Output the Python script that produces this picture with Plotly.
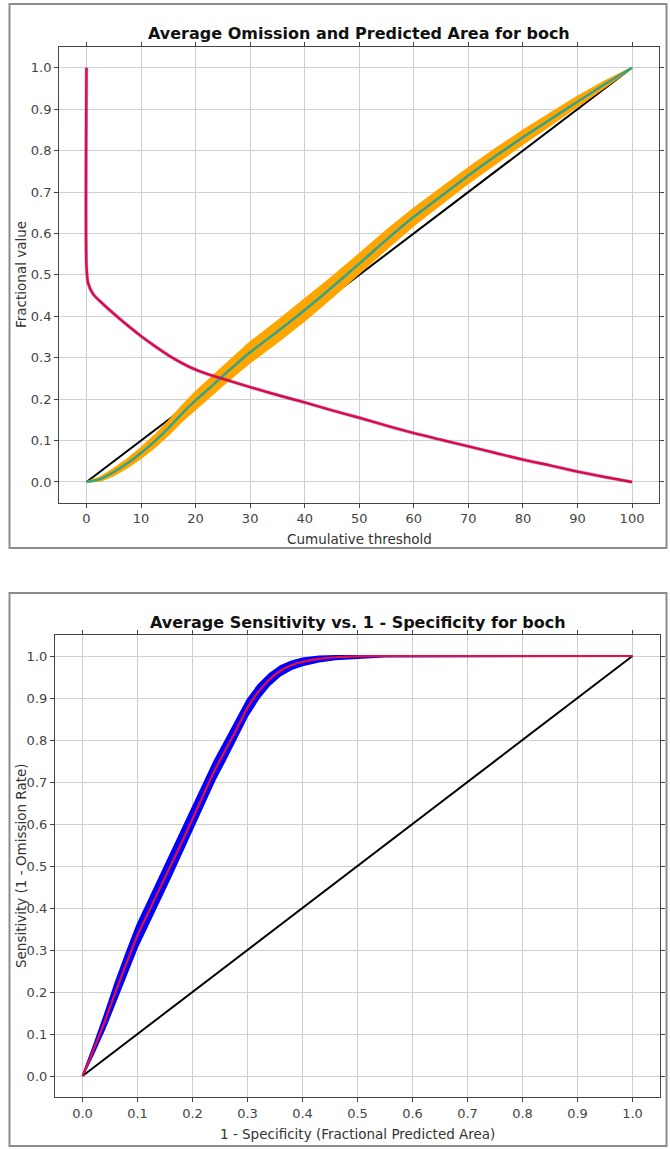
import plotly.graph_objects as go

W, H = 670, 1149

# ---------------- Top chart data: Average Omission and Predicted Area ----------------
thr = [0, 2.5, 5, 7.5, 10, 12.5, 15, 17.5, 20, 22.5, 25, 27.5, 30, 35, 40, 45, 50,
       55, 60, 65, 70, 75, 80, 85, 90, 95, 100]
omission_mean = [0, 0.007, 0.024, 0.045, 0.07, 0.098, 0.13, 0.165, 0.197, 0.226, 0.256,
                 0.285, 0.313, 0.363, 0.415, 0.47, 0.527, 0.585, 0.64, 0.69, 0.74, 0.787,
                 0.832, 0.875, 0.918, 0.96, 1.0]
omission_sd = [0, 0.004, 0.008, 0.01, 0.012, 0.014, 0.016, 0.018, 0.02, 0.021, 0.022,
               0.023, 0.024, 0.025, 0.025, 0.024, 0.023, 0.022, 0.02, 0.019, 0.018, 0.017,
               0.016, 0.014, 0.012, 0.007, 0]
pred_x = [0, 100]
pred_y = [0, 1]
area_x = [0, 0, 0.3, 1.25, 3, 6, 8, 10, 12.5, 15, 17.5, 20, 22.5, 25, 30, 35, 40, 45, 50,
          55, 60, 65, 70, 75, 80, 85, 90, 95, 100]
area_y = [1.0, 0.52, 0.48, 0.453, 0.43, 0.395, 0.373, 0.352, 0.328, 0.306, 0.287, 0.271,
          0.259, 0.249, 0.229, 0.21, 0.192, 0.173, 0.155, 0.136, 0.118, 0.102, 0.086,
          0.07, 0.054, 0.04, 0.025, 0.012, 0.0]
top_xticks = [0, 10, 20, 30, 40, 50, 60, 70, 80, 90, 100]
top_yticks = [0.0, 0.1, 0.2, 0.3, 0.4, 0.5, 0.6, 0.7, 0.8, 0.9, 1.0]

# ---------------- Bottom chart data: ROC ----------------
fpa = [0, 0.01, 0.02, 0.04, 0.06, 0.08, 0.10, 0.12, 0.14, 0.16, 0.18, 0.20, 0.22, 0.24,
       0.26, 0.28, 0.30, 0.32, 0.34, 0.36, 0.38, 0.40, 0.43, 0.46, 0.50, 0.55, 1.0]
sens = [0, 0.03, 0.062, 0.128, 0.2, 0.268, 0.335, 0.39, 0.445, 0.5, 0.555, 0.612, 0.67,
        0.727, 0.776, 0.825, 0.877, 0.915, 0.944, 0.965, 0.978, 0.986, 0.993, 0.997,
        0.999, 1.0, 1.0]
sens_sd = [0, 0.004, 0.008, 0.016, 0.022, 0.025, 0.026, 0.026, 0.026, 0.026, 0.026, 0.025,
           0.024, 0.023, 0.022, 0.021, 0.019, 0.016, 0.013, 0.011, 0.009, 0.008, 0.006,
           0.005, 0.004, 0.001, 0]
rand_x = [0, 1]
rand_y = [0, 1]
roc_ticks = [0.0, 0.1, 0.2, 0.3, 0.4, 0.5, 0.6, 0.7, 0.8, 0.9, 1.0]

FONT = "DejaVu Sans"

fig = go.Figure()

# ---- top chart traces ----
fig.add_trace(go.Scatter(x=pred_x, y=pred_y, mode="lines",
                         line=dict(color="#000000", width=2), xaxis="x", yaxis="y"))
om_up = [m + s for m, s in zip(omission_mean, omission_sd)]
om_lo = [m - s for m, s in zip(omission_mean, omission_sd)]
fig.add_trace(go.Scatter(x=thr + thr[::-1], y=om_up + om_lo[::-1], mode="lines",
                         fill="toself", fillcolor="#ffa500",
                         line=dict(color="#ffa500", width=2), xaxis="x", yaxis="y"))
fig.add_trace(go.Scatter(x=thr, y=omission_mean, mode="lines",
                         line=dict(color="#2fa58e", width=2.5, shape="spline", smoothing=0.6),
                         xaxis="x", yaxis="y"))
fig.add_trace(go.Scatter(x=area_x, y=area_y, mode="lines",
                         line=dict(color="#8a3cb0", width=3.6, shape="spline", smoothing=0.7),
                         opacity=0.45, xaxis="x", yaxis="y"))
fig.add_trace(go.Scatter(x=area_x, y=area_y, mode="lines",
                         line=dict(color="#dc0a45", width=2.4, shape="spline", smoothing=0.7),
                         xaxis="x", yaxis="y"))

# ---- bottom chart traces ----
fig.add_trace(go.Scatter(x=rand_x, y=rand_y, mode="lines",
                         line=dict(color="#000000", width=2), xaxis="x2", yaxis="y2"))
roc_up = [min(1.0, m + s) for m, s in zip(sens, sens_sd)]
roc_lo = [m - s for m, s in zip(sens, sens_sd)]
fig.add_trace(go.Scatter(x=fpa + fpa[::-1], y=roc_up + roc_lo[::-1], mode="lines",
                         fill="toself", fillcolor="#0000ff",
                         line=dict(color="#0000ff", width=2), xaxis="x2", yaxis="y2"))
fig.add_trace(go.Scatter(x=fpa, y=sens, mode="lines",
                         line=dict(color="#e8103a", width=2.2, shape="spline", smoothing=0.5),
                         xaxis="x2", yaxis="y2"))


def px_x(p):
    return p / W


def px_y(p):
    return 1 - p / H


axis_common = dict(
    showgrid=True, gridcolor="#cfcfcf", gridwidth=1.3,
    zeroline=False,
    showline=True, linecolor="#444444", linewidth=1.2, mirror="ticks",
    ticks="outside", ticklen=4, tickwidth=1.2, tickcolor="#444444",
    tickfont=dict(family=FONT, size=13, color="#444444"),
    fixedrange=True,
)

fig.update_layout(
    width=W, height=H,
    margin=dict(l=0, r=0, t=0, b=0),
    paper_bgcolor="white", plot_bgcolor="white",
    showlegend=False,
    xaxis=dict(domain=[px_x(59.2), px_x(659.3)], range=[-5, 105], anchor="y",
               tickvals=top_xticks, ticktext=[str(v) for v in top_xticks], **axis_common),
    yaxis=dict(domain=[px_y(502.7), px_y(47)], range=[-0.05, 1.05], anchor="x",
               tickvals=top_yticks, ticktext=[f"{v:.1f}" for v in top_yticks], **axis_common),
    xaxis2=dict(domain=[px_x(55), px_x(660)], range=[-0.05, 1.05], anchor="y2",
                tickvals=roc_ticks, ticktext=[f"{v:.1f}" for v in roc_ticks], **axis_common),
    yaxis2=dict(domain=[px_y(1097), px_y(635)], range=[-0.05, 1.05], anchor="x2",
                tickvals=roc_ticks, ticktext=[f"{v:.1f}" for v in roc_ticks], **axis_common),
)

# panel borders
for (t, b) in [(4, 548), (593, 1146)]:
    fig.add_shape(type="rect", xref="paper", yref="paper",
                  x0=px_x(9.5), x1=px_x(666.5), y0=px_y(b), y1=px_y(t),
                  line=dict(color="#8c8c8c", width=2), layer="below")

title_font = dict(family=FONT, size=16, color="#111111")
label_font = dict(family=FONT, size=13.5, color="#333333")

annotations = [
    dict(text="<b>Average Omission and Predicted Area for boch</b>", x=px_x(359), y=px_y(33),
         font=title_font),
    dict(text="Cumulative threshold", x=px_x(359), y=px_y(539), font=label_font),
    dict(text="Fractional value", x=px_x(21), y=px_y(275), font=label_font, textangle=-90),
    dict(text="<b>Average Sensitivity vs. 1 - Specificity for boch</b>", x=px_x(357.5),
         y=px_y(622), font=title_font),
    dict(text="1 - Specificity (Fractional Predicted Area)", x=px_x(357.5), y=px_y(1134),
         font=label_font),
    dict(text="Sensitivity (1 - Omission Rate)", x=px_x(21), y=px_y(866), font=label_font,
         textangle=-90),
]
for a in annotations:
    fig.add_annotation(xref="paper", yref="paper", showarrow=False,
                       xanchor="center", yanchor="middle", **a)

fig.write_html(
    "out.html",
    config={"displayModeBar": False},
    post_script="document.body.style.margin='0';document.body.style.overflow='hidden';",
)
